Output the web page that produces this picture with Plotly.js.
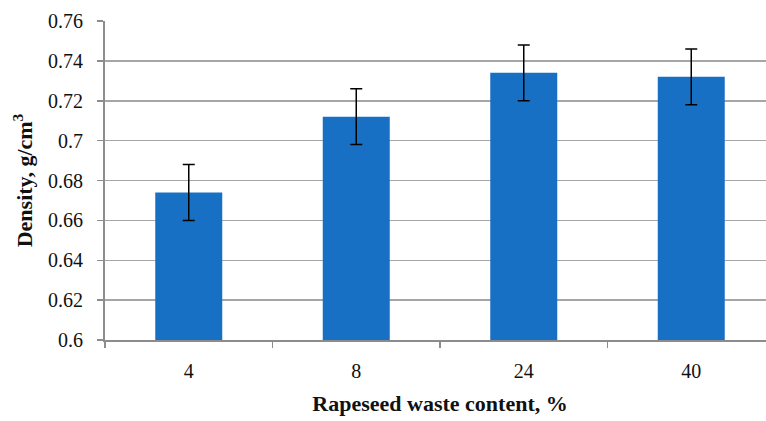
<!DOCTYPE html>
<html>
<head>
<meta charset="utf-8">
<script src="https://cdn.plot.ly/plotly-3.0.1.min.js"></script>
<style>
html, body { margin: 0; padding: 0; overflow: hidden; background: #fff; }
#chart { width: 776px; height: 421px; }
</style>
</head>
<body>
<div id="chart"></div>
<script>
const categories = ["4", "8", "24", "40"];
const densityValues = [0.674, 0.712, 0.734, 0.732];
const densityErrors = [0.014, 0.014, 0.014, 0.014];
const yTickVals = [0.6, 0.62, 0.64, 0.66, 0.68, 0.7, 0.72, 0.74, 0.76];
const yTickText = ["0.6", "0.62", "0.64", "0.66", "0.68", "0.7", "0.72", "0.74", "0.76"];

const FONT = "'Liberation Serif', 'Times New Roman', serif";

const trace = {
  type: "bar",
  x: categories,
  y: densityValues,
  marker: { color: "#1870C5", line: { width: 0 } },
  error_y: {
    type: "data",
    array: densityErrors,
    visible: true,
    color: "#000000",
    thickness: 1.5,
    width: 6
  },
  hoverinfo: "x+y"
};

const layout = {
  width: 776,
  height: 421,
  margin: { l: 105, r: 1, t: 21, b: 81 },
  paper_bgcolor: "#ffffff",
  plot_bgcolor: "#ffffff",
  showlegend: false,
  bargap: 0.6,
  font: { family: FONT, size: 20, color: "#111111" },
  xaxis: {
    type: "category",
    showline: true,
    linecolor: "#8C8C8C",
    linewidth: 2,
    ticks: "outside",
    tickson: "boundaries",
    ticklen: 6,
    tickcolor: "#8C8C8C",
    tickwidth: 1.5,
    ticklabelstandoff: 12,
    showgrid: false,
    tickfont: { family: FONT, size: 20, color: "#111111" },
    title: {
      text: "<b>Rapeseed waste content, %</b>",
      font: { family: FONT, size: 22, color: "#111111" },
      standoff: 15
    }
  },
  yaxis: {
    range: [0.6, 0.76],
    tickvals: yTickVals,
    ticktext: yTickText,
    showline: true,
    linecolor: "#8C8C8C",
    linewidth: 2,
    ticks: "outside",
    ticklen: 6,
    tickcolor: "#8C8C8C",
    tickwidth: 1.5,
    ticklabelstandoff: 10,
    showgrid: true,
    gridcolor: "#A6A6A6",
    gridwidth: 1.5,
    zeroline: false,
    tickfont: { family: FONT, size: 20, color: "#111111" },
    title: {
      text: "<b>Density, g/cm<sup>3</sup></b>",
      font: { family: FONT, size: 22, color: "#111111" },
      standoff: 9
    }
  }
};

Plotly.newPlot("chart", [trace], layout, { displayModeBar: false, staticPlot: true });
</script>
</body>
</html>
